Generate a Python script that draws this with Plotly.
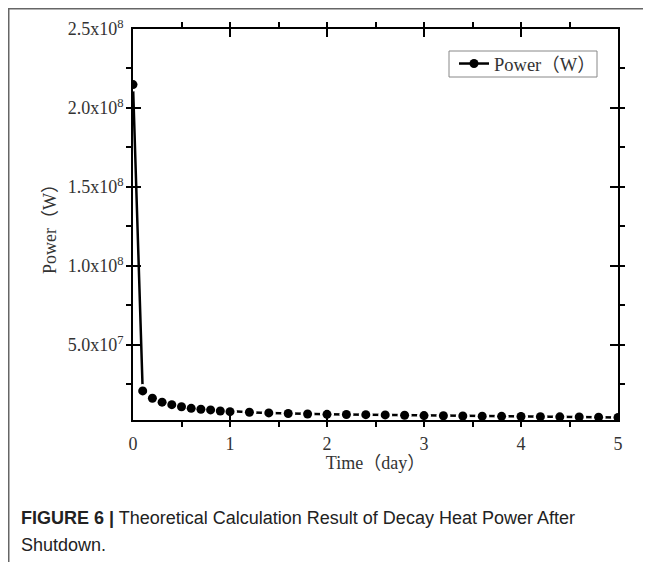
import plotly.graph_objects as go

time_day = [0, 0.1, 0.2, 0.3, 0.4, 0.5, 0.6, 0.7, 0.8, 0.9, 1.0,
            1.2, 1.4, 1.6, 1.8, 2.0, 2.2, 2.4, 2.6, 2.8, 3.0,
            3.2, 3.4, 3.6, 3.8, 4.0, 4.2, 4.4, 4.6, 4.8, 5.0]
power_w = [2.148e8, 2.09e7, 1.63e7, 1.38e7, 1.22e7, 1.09e7, 9.9e6, 9.3e6, 8.9e6, 8.2e6, 7.8e6,
           7.4e6, 7.0e6, 6.6e6, 6.3e6, 6.1e6, 6.0e6, 5.9e6, 5.7e6, 5.5e6, 5.3e6,
           5.2e6, 5.0e6, 4.9e6, 4.8e6, 4.7e6, 4.6e6, 4.5e6, 4.4e6, 4.3e6, 4.1e6]

y_tickvals = [5e7, 1e8, 1.5e8, 2e8, 2.5e8]
y_ticktext = ["5.0x10<sup>7</sup>", "1.0x10<sup>8</sup>", "1.5x10<sup>8</sup>",
              "2.0x10<sup>8</sup>", "2.5x10<sup>8</sup>"]
x_tickvals = [0, 1, 2, 3, 4, 5]

serif = "Liberation Serif, Noto Sans CJK SC, serif"

fig = go.Figure()
fig.add_trace(go.Scatter(x=time_day, y=power_w, mode="lines+markers", name="Power（W）",
                         line=dict(color="black", width=2.5),
                         marker=dict(color="black", size=9)))
fig.add_trace(go.Scatter(x=time_day, y=power_w, mode="markers", showlegend=False,
                         marker=dict(color="white", size=14), hoverinfo="skip"))
fig.add_trace(go.Scatter(x=time_day, y=power_w, mode="markers", showlegend=False,
                         marker=dict(color="black", size=9), hoverinfo="skip"))

# the page has an 8px body margin: image positions are shifted by +8
OFF = 8
FW, FH = 651, 562
L, T = 125, 21
R = FW - 610
B = FH - 412
W, H = FW - L - R, FH - T - B

def px(x):
    return (x - OFF - L) / W

def py(y):
    return (FH - B - (y - OFF)) / H

axis_common = dict(showline=True, linecolor="black", linewidth=1.8, mirror="ticks",
                   ticks="inside", ticklen=8, tickwidth=1.5, tickcolor="black",
                   showgrid=False, zeroline=False,
                   tickfont=dict(family=serif, size=18, color="#333"))

fig.update_xaxes(range=[0, 5], tickvals=x_tickvals, ticklabelstandoff=6,
                 minor=dict(dtick=0.5, ticks="outside", ticklen=5, tickwidth=1.5, tickcolor="black"),
                 title=dict(text="Time（day）", font=dict(family=serif, size=18, color="#333"), standoff=4),
                 **axis_common)
fig.update_yaxes(range=[2.5e6, 2.5e8], tickvals=y_tickvals, ticktext=y_ticktext, ticklabelstandoff=4,
                 minor=dict(dtick=2.5e7, ticks="outside", ticklen=5, tickwidth=1.5, tickcolor="black"),
                 title=dict(text="Power（W）", font=dict(family=serif, size=18, color="#333"), standoff=6),
                 **axis_common)

fig.update_layout(
    width=FW, height=FH,
    margin=dict(l=L, r=R, t=T, b=B, autoexpand=False),
    plot_bgcolor="white", paper_bgcolor="white",
    legend=dict(x=px(454), y=py(64), xanchor="left", yanchor="middle",
                bgcolor="rgba(0,0,0,0)", borderwidth=0,
                font=dict(family=serif, size=18.5, color="#333"),
                tracegroupgap=0),
    shapes=[
        dict(type="rect", xref="paper", yref="paper", x0=px(449), x1=px(597), y0=py(51), y1=py(77),
             line=dict(color="#888", width=1), fillcolor="white", layer="below"),
        dict(type="line", xref="paper", yref="paper", x0=px(8), x1=px(660), y0=py(8.75), y1=py(8.75),
             line=dict(color="#666", width=1.5)),
        dict(type="line", xref="paper", yref="paper", x0=px(8.75), x1=px(8.75), y0=py(8.75), y1=py(570),
             line=dict(color="#666", width=1.5)),
    ],
    annotations=[
        dict(xref="paper", yref="paper", x=px(19), y=py(518), xanchor="left", yanchor="middle",
             showarrow=False, align="left",
             text="<b>FIGURE 6 |</b> Theoretical Calculation Result of Decay Heat Power After",
             font=dict(family="Liberation Sans, Arial, sans-serif", size=18, color="#222")),
        dict(xref="paper", yref="paper", x=px(19), y=py(545), xanchor="left", yanchor="middle",
             showarrow=False, align="left", text="Shutdown.",
             font=dict(family="Liberation Sans, Arial, sans-serif", size=18, color="#222")),
    ],
)

fig.write_html("out.html")
